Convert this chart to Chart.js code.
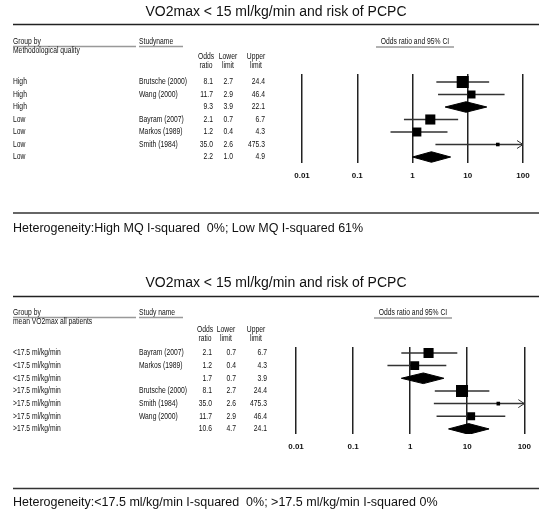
<!DOCTYPE html>
<html><head><meta charset="utf-8">
<script src="https://cdn.jsdelivr.net/npm/chart.js@4"></script>
<style>
html,body{margin:0;padding:0;background:#fff;}
#wrap{position:relative;width:539px;height:513px;background:#fff;}
#wrap canvas{position:absolute;left:0;top:0;}
</style></head><body>
<div id="wrap"><canvas id="c1" width="539" height="513"></canvas><canvas id="c2" width="539" height="513"></canvas></div>
<script>
// ---------- data ----------
const chartTitle = "VO2max < 15 ml/kg/min and risk of PCPC";
const tickValues = [0.01, 0.1, 1, 10, 100];
const tickLabels = ["0.01", "0.1", "1", "10", "100"];

// Panel 1: grouped by methodological quality
const groups1 = ["High", "High", "High", "Low", "Low", "Low", "Low"];
const studies1 = ["Brutsche (2000)", "Wang (2000)", "", "Bayram (2007)", "Markos (1989)", "Smith (1984)", ""];
const oddsRatio1 = [8.1, 11.7, 9.3, 2.1, 1.2, 35.0, 2.2];
const lower1 = [2.7, 2.9, 3.9, 0.7, 0.4, 2.6, 1.0];
const upper1 = [24.4, 46.4, 22.1, 6.7, 4.3, 475.3, 4.9];
const summary1 = [false, false, true, false, false, false, true];
const weights1 = [34, 15, null, 24, 19, 3, null];
const footnote1 = "Heterogeneity:High MQ I-squared  0%; Low MQ I-squared 61%";

// Panel 2: grouped by mean VO2max of all patients
const groups2 = ["<17.5 ml/kg/min", "<17.5 ml/kg/min", "<17.5 ml/kg/min", ">17.5 ml/kg/min", ">17.5 ml/kg/min", ">17.5 ml/kg/min", ">17.5 ml/kg/min"];
const studies2 = ["Bayram (2007)", "Markos (1989)", "", "Brutsche (2000)", "Smith (1984)", "Wang (2000)", ""];
const oddsRatio2 = [2.1, 1.2, 1.7, 8.1, 35.0, 11.7, 10.6];
const lower2 = [0.7, 0.4, 0.7, 2.7, 2.6, 2.9, 4.7];
const upper2 = [6.7, 4.3, 3.9, 24.4, 475.3, 46.4, 24.1];
const summary2 = [false, false, true, false, false, false, true];
const weights2 = [24, 19, null, 34, 3, 15, null];
const footnote2 = "Heterogeneity:<17.5 ml/kg/min I-squared  0%; >17.5 ml/kg/min I-squared 0%";

// ---------- helpers ----------
const SQ = 2.06;          // square side per sqrt(weight)
const DIAMOND_H = 0.42;   // half height of summary diamond (row units)
const XMAX = 100;
const INK = '#111';
const FS = 9;             // small text size

function smallText(ctx, text, x, y, align, size, sx) {
  sx = sx || 0.75;
  ctx.save();
  ctx.font = size + 'px "Liberation Sans", Arial, sans-serif';
  ctx.textBaseline = 'middle';
  ctx.fillStyle = INK;
  const w = ctx.measureText(text).width * sx;
  const x0 = align === 'right' ? x - w : align === 'center' ? x - w / 2 : x;
  ctx.translate(x0, y);
  ctx.scale(sx, 1);
  ctx.textAlign = 'left';
  ctx.fillText(text, 0, 0);
  ctx.restore();
}
function hline(ctx, x1, x2, y, color, width) {
  ctx.save(); ctx.strokeStyle = color; ctx.lineWidth = width;
  ctx.beginPath(); ctx.moveTo(x1, y); ctx.lineTo(x2, y); ctx.stroke(); ctx.restore();
}

const panelText = {
  id: 'panelText',
  afterDraw(chart, args, o) {
    const ctx = chart.ctx;
    const ys = chart.scales.y;
    // title
    ctx.save();
    ctx.font = '14px "Liberation Sans", Arial, sans-serif';
    ctx.fillStyle = INK; ctx.textAlign = 'center'; ctx.textBaseline = 'middle';
    ctx.fillText(chartTitle, 276, o.titleY);
    ctx.restore();
    hline(ctx, 13, 539, o.titleLineY, '#222', 1.6);
    // column headers
    smallText(ctx, 'Group by', 13, o.headY, 'left', FS);
    hline(ctx, 13, 136, o.headY + 4.5, '#999', 1.3);
    smallText(ctx, o.subHead, 13, o.headY + 8.5, 'left', FS);
    smallText(ctx, o.studyHead, 139, o.headY, 'left', FS);
    hline(ctx, 139, 183, o.headY + 4.5, '#999', 1.3);
    const c = o.cols;
    smallText(ctx, 'Odds', c.hOdds, o.colHeadY, 'center', FS);
    smallText(ctx, 'ratio', c.hOdds, o.colHeadY + 9, 'center', FS);
    smallText(ctx, 'Lower', c.hLow, o.colHeadY, 'center', FS);
    smallText(ctx, 'limit', c.hLow, o.colHeadY + 9, 'center', FS);
    smallText(ctx, 'Upper', c.hUp, o.colHeadY, 'center', FS);
    smallText(ctx, 'limit', c.hUp, o.colHeadY + 9, 'center', FS);
    smallText(ctx, 'Odds ratio and 95% CI', o.ciHeadX, o.ciHeadY, 'center', FS);
    hline(ctx, o.ciHeadX - 39, o.ciHeadX + 39, o.ciHeadY + 5, '#999', 1.3);
    // rows
    const d = o.data;
    d.groups.forEach((g, i) => {
      const y = ys.getPixelForValue(i);
      smallText(ctx, g, 13, y, 'left', FS);
      if (d.studies[i]) smallText(ctx, d.studies[i], 139, y, 'left', FS);
      smallText(ctx, d.or[i].toFixed(1), c.odds, y, 'right', FS);
      smallText(ctx, d.lo[i].toFixed(1), c.low, y, 'right', FS);
      smallText(ctx, d.hi[i].toFixed(1), c.up, y, 'right', FS);
    });
    // arrows for truncated CIs
    const xs = chart.scales.x;
    d.hi.forEach((h, i) => {
      if (h > XMAX) {
        const x = xs.getPixelForValue(XMAX), y = ys.getPixelForValue(i);
        ctx.save(); ctx.strokeStyle = '#333'; ctx.lineWidth = 1;
        ctx.beginPath(); ctx.moveTo(x - 6, y - 4); ctx.lineTo(x, y); ctx.lineTo(x - 6, y + 4); ctx.stroke();
        ctx.restore();
      }
    });
    // footnote
    hline(ctx, 13, 539, o.footLineY, '#333', 1.4);
    ctx.save();
    ctx.font = '12.5px "Liberation Sans", Arial, sans-serif';
    ctx.fillStyle = INK; ctx.textAlign = 'left'; ctx.textBaseline = 'middle';
    ctx.fillText(o.footnote, 13, o.footY);
    ctx.restore();
  }
};

function buildDatasets(orr, lo, hi, summ, w) {
  const ci = [];
  const sq = [], sqR = [];
  const ds = [];
  orr.forEach((v, i) => {
    if (summ[i]) {
      ds.push({
        type: 'line', data: [
          { x: lo[i], y: i }, { x: v, y: i - DIAMOND_H }, { x: hi[i], y: i },
          { x: v, y: i + DIAMOND_H }, { x: lo[i], y: i }],
        fill: 'shape', backgroundColor: '#000', borderColor: '#000', borderWidth: 1,
        pointRadius: 0, tension: 0, order: 0
      });
    } else {
      ci.push({ x: lo[i], y: i }, { x: Math.min(hi[i], XMAX), y: i }, { x: NaN, y: NaN });
      sq.push({ x: v, y: i });
      sqR.push(Math.sqrt(w[i]) * SQ / Math.SQRT2);
    }
  });
  ds.push({ type: 'scatter', data: ci, showLine: true, spanGaps: false, borderColor: '#333', borderWidth: 1.5, pointRadius: 0, order: 2 });
  ds.push({ type: 'scatter', data: sq, pointStyle: 'rect', pointRadius: sqR, pointHoverRadius: sqR,
            backgroundColor: '#000', borderColor: '#000', borderWidth: 0, order: 1 });
  return ds;
}

function makeChart(id, data, pad, yMin, yMax, textOpts) {
  return new Chart(document.getElementById(id), {
    type: 'scatter',
    data: { datasets: buildDatasets(data.or, data.lo, data.hi, data.summ, data.w) },
    options: {
      responsive: false, animation: false, events: [],
      layout: { padding: pad },
      plugins: { legend: { display: false }, tooltip: { enabled: false }, panelText: Object.assign({ data }, textOpts) },
      scales: {
        x: {
          type: 'logarithmic', min: 0.01, max: 100,
          afterBuildTicks: s => { s.ticks = tickValues.map(v => ({ value: v })); },
          afterFit: s => { s.height = 30; },
          grid: { color: '#222', lineWidth: 1.5, drawTicks: false },
          border: { display: false },
          ticks: {
            autoSkip: false, maxRotation: 0, padding: 8, color: INK,
            font: { family: '"Liberation Sans Narrow", "Liberation Sans", Arial', size: 8, weight: 'bold' },
            callback: (v, i) => tickLabels[i]
          }
        },
        y: { type: 'linear', reverse: true, min: yMin, max: yMax, display: false }
      }
    },
    plugins: [panelText]
  });
}

makeChart('c1',
  { groups: groups1, studies: studies1, or: oddsRatio1, lo: lower1, hi: upper1, summ: summary1, w: weights1 },
  { left: 302, right: 16, top: 74, bottom: 513 - 163 - 30 }, -0.64, 6.48,
  { titleY: 12, titleLineY: 24.5, headY: 42, subHead: 'Methodological quality', studyHead: 'Studyname',
    colHeadY: 57, cols: { hOdds: 206, hLow: 228, hUp: 256, odds: 213, low: 233, up: 265 },
    ciHeadX: 415, ciHeadY: 42, footLineY: 213, footY: 229, footnote: footnote1 });

makeChart('c2',
  { groups: groups2, studies: studies2, or: oddsRatio2, lo: lower2, hi: upper2, summ: summary2, w: weights2 },
  { left: 296, right: 11, top: 347, bottom: 513 - 434 - 30 }, -0.47, 6.4,
  { titleY: 283, titleLineY: 296.5, headY: 313, subHead: 'mean VO2max all patients', studyHead: 'Study name',
    colHeadY: 330, cols: { hOdds: 205, hLow: 226, hUp: 256, odds: 212, low: 236, up: 267 },
    ciHeadX: 413, ciHeadY: 313, footLineY: 488.5, footY: 503, footnote: footnote2 });
</script>
</body></html>
